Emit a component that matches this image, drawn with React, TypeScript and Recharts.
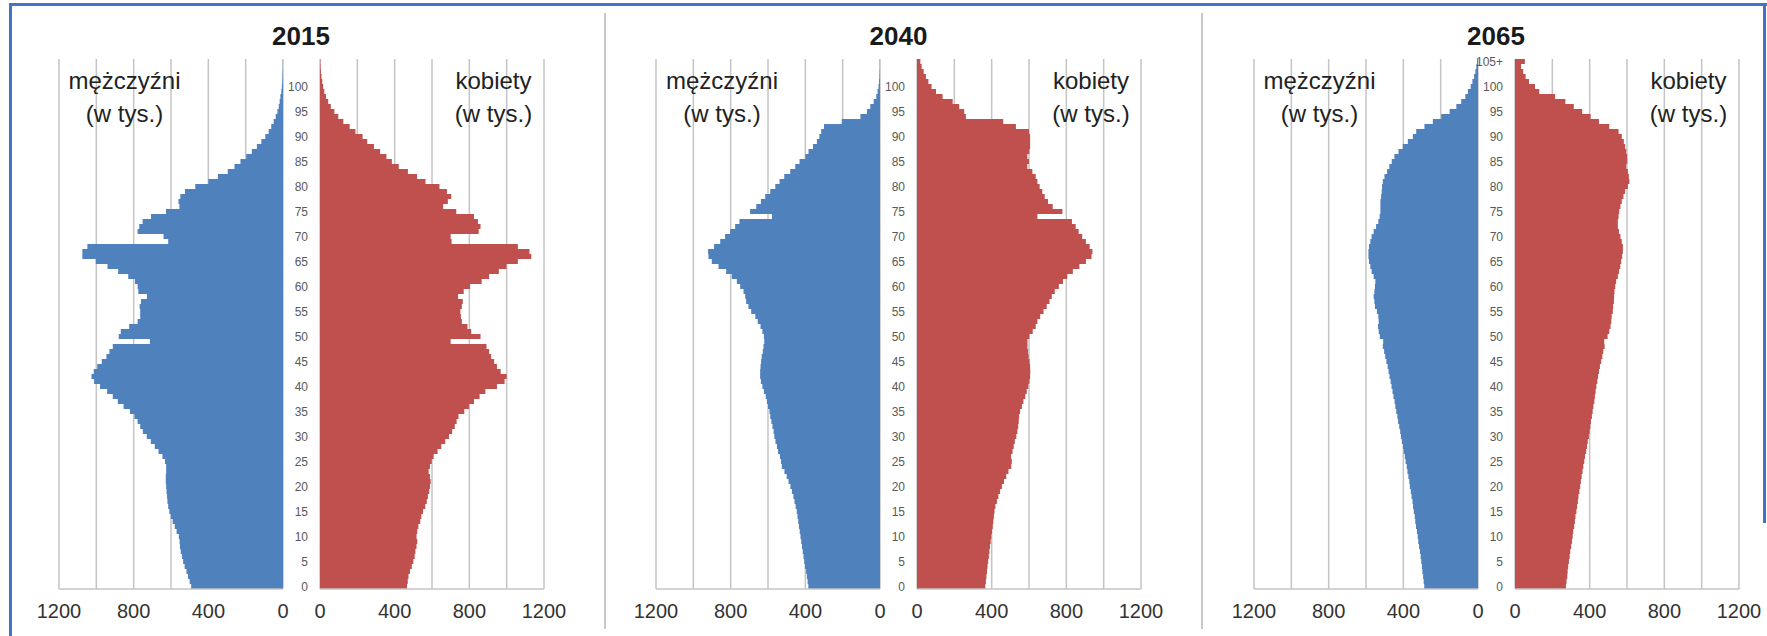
import { BarChart, Bar, XAxis, YAxis, CartesianGrid } from 'recharts'

// ages 0..105 (top row is the open group 105+)
const AGES = Array.from({ length: 106 }, (_, i) => i)

const male2015 = [
  492, 500, 509, 517, 527, 535, 541, 548, 552, 554,
  558, 570, 580, 591, 601, 609, 615, 619, 621, 624,
  626, 628, 628, 626, 626, 632, 646, 667, 687, 708,
  730, 751, 765, 779, 796, 820, 854, 885, 912, 942,
  980, 1012, 1026, 1014, 995, 971, 946, 930, 912, 713,
  880, 869, 824, 779, 765, 765, 768, 761, 729, 775,
  779, 793, 829, 883, 940, 1003, 1075, 1075, 1048, 615,
  640, 779, 770, 752, 707, 627, 555, 560, 550, 525,
  470, 400, 349, 296, 260, 228, 197, 167, 140, 116,
  95, 77, 63, 50, 39, 30, 23, 18, 14, 9,
  6, 4, 3, 2, 1, 1,
]
const female2015 = [
  466, 470, 474, 482, 492, 500, 507, 511, 517, 521,
  517, 521, 527, 537, 543, 552, 564, 572, 578, 585,
  589, 593, 589, 582, 589, 599, 609, 630, 650, 671,
  691, 708, 722, 732, 742, 773, 798, 825, 855, 886,
  948, 989, 1000, 968, 948, 933, 917, 906, 892, 700,
  860, 810, 790, 760, 755, 752, 760, 765, 740, 770,
  804, 866, 906, 958, 999, 1060, 1132, 1122, 1060, 705,
  700, 850, 860, 846, 825, 730, 660, 685, 703, 680,
  640, 565, 520, 471, 422, 385, 356, 322, 289, 253,
  228, 190, 159, 125, 98, 77, 58, 44, 32, 23,
  17, 12, 8, 5, 3, 2,
]
const male2040 = [
  384, 388, 392, 396, 402, 406, 410, 414, 418, 422,
  426, 430, 434, 438, 442, 446, 452, 458, 464, 472,
  480, 490, 500, 512, 526, 530, 536, 546, 552, 560,
  566, 570, 576, 582, 588, 592, 600, 606, 612, 622,
  630, 638, 642, 642, 640, 637, 634, 628, 624, 620,
  622, 630, 640, 655, 668, 690, 705, 717, 722, 731,
  749, 767, 794, 824, 865, 901, 919, 921, 889, 856,
  830, 803, 776, 753, 579, 696, 663, 638, 615, 588,
  561, 538, 513, 481, 454, 431, 400, 383, 359, 338,
  325, 315, 300, 205, 105, 70, 52, 34, 20, 13,
  8, 5, 3, 2, 1, 1,
]
const female2040 = [
  366, 369, 372, 375, 378, 381, 385, 388, 391, 395,
  398, 402, 406, 409, 412, 415, 420, 428, 436, 445,
  455, 466, 478, 490, 505, 508, 504, 512, 518, 524,
  532, 538, 542, 545, 547, 552, 562, 570, 580, 588,
  596, 602, 606, 607, 606, 603, 598, 595, 592, 592,
  602, 620, 636, 645, 660, 678, 695, 710, 722, 738,
  760, 782, 805, 835, 870, 905, 935, 940, 925, 905,
  885, 866, 850, 830, 645, 779, 727, 702, 684, 671,
  657, 645, 636, 618, 591, 600, 591, 602, 606, 606,
  606, 600, 530, 462, 262, 253, 226, 191, 137, 102,
  78, 61, 48, 36, 25, 18,
]
const male2065 = [
  288, 291, 294, 298, 300, 304, 307, 311, 316, 320,
  323, 327, 332, 336, 339, 344, 348, 351, 356, 360,
  365, 368, 373, 378, 382, 388, 392, 398, 402, 408,
  413, 417, 422, 428, 432, 438, 443, 447, 453, 458,
  463, 468, 474, 479, 484, 491, 497, 503, 510, 508,
  526, 532, 536, 532, 534, 541, 552, 555, 559, 555,
  552, 550, 559, 570, 577, 584, 587, 587, 584, 577,
  570, 559, 546, 534, 527, 523, 523, 523, 519, 516,
  514, 510, 501, 487, 475, 462, 448, 426, 403, 376,
  349, 331, 287, 242, 197, 152, 116, 90, 68, 54,
  39, 30, 21, 14, 9, 5,
]
const female2065 = [
  273, 276, 280, 282, 285, 289, 293, 296, 301, 305,
  309, 312, 317, 321, 324, 329, 333, 337, 340, 345,
  349, 353, 357, 362, 366, 371, 375, 381, 386, 390,
  396, 400, 404, 407, 412, 416, 420, 425, 428, 432,
  436, 441, 445, 450, 455, 462, 468, 473, 480, 478,
  496, 505, 512, 516, 518, 524, 526, 530, 531, 533,
  537, 542, 551, 557, 564, 569, 574, 578, 578, 572,
  565, 557, 551, 551, 555, 558, 565, 572, 581, 590,
  605, 613, 610, 605, 596, 601, 601, 596, 590, 583,
  572, 555, 505, 450, 405, 360, 315, 270, 215, 130,
  107, 75, 57, 44, 32, 53,
]

const X_TICKS = [0, 400, 800, 1200]
const GRID_VALUES = [0, 200, 400, 600, 800, 1000, 1200]
const AGE_TICKS = [0, 5, 10, 15, 20, 25, 30, 35, 40, 45, 50, 55, 60, 65, 70, 75, 80, 85, 90, 95, 100]
const AGE_TICKS_PLUS = [...AGE_TICKS, 105]

const MALE = '#4F81BD'
const FEMALE = '#C0504D'
const GRID = '#c4c4c4'

const PLOT_TOP = 59
const PLOT_H = 530
const HALF_W = 224
const GAP = 37
const AXIS_H = 40
const MT = 12 // room above the plot so the top age label is not clipped
const ML = 8 // room left of the age labels

interface PanelProps {
  year: string
  male: number[]
  female: number[]
  left: number
  ageTicks: number[]
}

const labelStyle = {
  position: 'absolute' as const,
  top: 64,
  width: 200,
  textAlign: 'center' as const,
  fontSize: 24,
  lineHeight: '33px',
  color: '#222',
  zIndex: 2,
}

const Panel = ({ year, male, female, left, ageTicks }: PanelProps) => {
  const data = AGES.map((age, i) => ({ age, m: male[i], f: female[i] }))
  const femaleLeft = left + HALF_W

  const axes = (reversed: boolean) => [
    <XAxis
      key="b"
      xAxisId="b"
      type="number"
      domain={[0, 1200]}
      ticks={X_TICKS}
      interval={0}
      reversed={reversed}
      tickLine={false}
      tickMargin={9}
      height={AXIS_H}
      axisLine={{ stroke: GRID, strokeWidth: 1.5 }}
      tick={{ fontSize: 20, fill: '#333' }}
    />,
    <XAxis
      key="t"
      xAxisId="t"
      orientation="top"
      type="number"
      domain={[0, 1200]}
      reversed={reversed}
      tick={false}
      tickLine={false}
      height={0}
      axisLine={{ stroke: GRID, strokeWidth: 1.5 }}
    />,
    <CartesianGrid
      key="g"
      xAxisId="b"
      horizontal={false}
      verticalValues={GRID_VALUES}
      stroke={GRID}
      strokeWidth={1.5}
    />,
  ]

  return (
    <>
      <div
        style={{
          position: 'absolute',
          left: left + HALF_W + GAP / 2 - 60,
          top: 23,
          width: 120,
          textAlign: 'center',
          fontSize: 26,
          lineHeight: '26px',
          fontWeight: 'bold',
          color: '#1a1a1a',
        }}
      >
        {year}
      </div>

      <div style={{ position: 'absolute', left: left - 30, top: PLOT_TOP - MT }}>
        <BarChart
          width={30 + HALF_W + 10}
          height={MT + PLOT_H + AXIS_H}
          data={data}
          layout="vertical"
          barCategoryGap={0}
          margin={{ top: MT, right: 10, bottom: 0, left: 30 }}
        >
          {axes(true)}
          <YAxis type="category" dataKey="age" reversed hide />
          <Bar dataKey="m" xAxisId="b" fill={MALE} isAnimationActive={false} />
        </BarChart>
      </div>

      <div style={{ position: 'absolute', left: femaleLeft - ML, top: PLOT_TOP - MT }}>
        <BarChart
          width={ML + GAP + HALF_W + 30}
          height={MT + PLOT_H + AXIS_H}
          data={data}
          layout="vertical"
          barCategoryGap={0}
          margin={{ top: MT, right: 30, bottom: 0, left: ML }}
        >
          {axes(false)}
          <YAxis
            type="category"
            dataKey="age"
            reversed
            width={GAP}
            ticks={ageTicks}
            interval={0}
            axisLine={false}
            tickLine={false}
            tickMargin={6}
            tick={{ fontSize: 12, fill: '#595959' }}
            tickFormatter={(v: number) => (v === 105 ? '105+' : String(v))}
          />
          <Bar dataKey="f" xAxisId="b" fill={FEMALE} isAnimationActive={false} />
        </BarChart>
      </div>

      <div style={{ ...labelStyle, left: left + 66 - 100 }}>
        mężczyźni
        <br />
        (w tys.)
      </div>
      <div style={{ ...labelStyle, left: femaleLeft + GAP + HALF_W - 50 - 100 }}>
        kobiety
        <br />
        (w tys.)
      </div>
    </>
  )
}

export default function App() {
  return (
    <div
      style={{
        position: 'absolute',
        left: 0,
        top: 0,
        width: 1767,
        height: 636,
        background: '#fff',
        overflow: 'hidden',
        fontFamily: '"Liberation Sans", Arial, sans-serif',
      }}
    >
      {/* frame */}
      <div style={{ position: 'absolute', left: 9, top: 3, width: 1758, height: 3, background: '#4472C4' }} />
      <div style={{ position: 'absolute', left: 9, top: 3, width: 3, height: 633, background: '#4472C4' }} />
      <div style={{ position: 'absolute', left: 1763, top: 3, width: 3, height: 520, background: '#4472C4' }} />
      <div style={{ position: 'absolute', left: 604, top: 13, width: 2, height: 616, background: '#c8c8c8' }} />
      <div style={{ position: 'absolute', left: 1201, top: 13, width: 2, height: 616, background: '#c8c8c8' }} />

      <Panel year="2015" male={male2015} female={female2015} left={58.5} ageTicks={AGE_TICKS} />
      <Panel year="2040" male={male2040} female={female2040} left={656} ageTicks={AGE_TICKS} />
      <Panel year="2065" male={male2065} female={female2065} left={1253.5} ageTicks={AGE_TICKS_PLUS} />
    </div>
  )
}
